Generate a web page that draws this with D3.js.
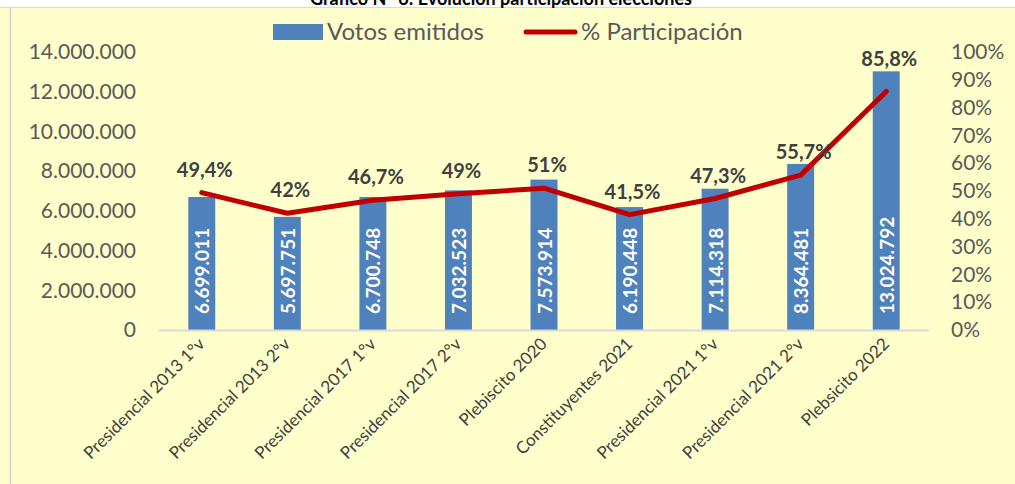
<!DOCTYPE html>
<html><head><meta charset="utf-8">
<script src="https://cdn.jsdelivr.net/npm/d3@7"></script>
<style>
html,body{margin:0;padding:0;background:#fff;}
svg{display:block;font-family:Lato, "Open Sans", sans-serif;}
</style></head>
<body><svg id="c" width="1015" height="484"></svg>
<script>
const title = "Gráfico N° 6: Evolución participación elecciones";
const categories = ["Presidencial 2013 1°v","Presidencial 2013 2°v","Presidencial 2017 1°v","Presidencial 2017 2°v","Plebiscito 2020","Constituyentes 2021","Presidencial 2021 1°v","Presidencial 2021 2°v","Plebsicito 2022"];
const votos = [6699011,5697751,6700748,7032523,7573914,6190448,7114318,8364481,13024792];
const participacion = [49.4,42,46.7,49,51,41.5,47.3,55.7,85.8];
const leftTicks = [0,2000000,4000000,6000000,8000000,10000000,12000000,14000000];
const rightTicks = [0,10,20,30,40,50,60,70,80,90,100];
const seriesNames = ["Votos emitidos","% Participación"];

const svg = d3.select("#c");
const W = 1015, H = 484;
const loc = d3.formatLocale({decimal:",", thousands:".", grouping:[3], currency:["$",""]});
const fmtInt = loc.format(",d");
const fmtPct = v => (Math.round(v*10)/10).toString().replace(".", ",") + "%";

// background
svg.append("rect").attr("x",0).attr("y",0).attr("width",W).attr("height",H).attr("fill","#ffffff");
svg.append("rect").attr("x",0).attr("y",8).attr("width",W).attr("height",H-8).attr("fill","#FFFFCC");
svg.append("line").attr("x1",0).attr("x2",W).attr("y1",7.5).attr("y2",7.5).attr("stroke","#d9d9d9").attr("stroke-width",1);
svg.append("line").attr("x1",10.5).attr("x2",10.5).attr("y1",8).attr("y2",H).attr("stroke","#d0d0d0").attr("stroke-width",1.5);
svg.append("text").attr("x",501).attr("y",5).attr("text-anchor","middle")
  .attr("font-weight","bold").attr("font-size",18).attr("fill","#000").text(title);

const x = d3.scaleBand().domain(categories).range([159,929]).paddingInner(0.685).paddingOuter(0.3425);
const yL = d3.scaleLinear().domain([0,14000000]).range([330,52]);
const yR = d3.scaleLinear().domain([0,100]).range([330,52]);

// axes
const axL = svg.append("g").attr("transform","translate(142,0)")
  .call(d3.axisLeft(yL).tickValues(leftTicks).tickSize(0).tickPadding(6).tickFormat(d=>fmtInt(d)));
const axR = svg.append("g").attr("transform","translate(945,0)")
  .call(d3.axisRight(yR).tickValues(rightTicks).tickSize(0).tickPadding(6).tickFormat(d=>d+"%"));
[axL,axR].forEach(a=>{
  a.select(".domain").remove();
  a.selectAll("text").attr("font-size",21).attr("fill","#595959").attr("font-family","Lato, sans-serif");
});

// bars
svg.append("g").selectAll("rect").data(categories).join("rect")
  .attr("x",d=>x(d)).attr("width",x.bandwidth())
  .attr("y",(d,i)=>yL(votos[i])).attr("height",(d,i)=>yL(0)-yL(votos[i]))
  .attr("fill","#4F81BD");

// baseline
svg.append("line").attr("x1",159).attr("x2",929).attr("y1",yL(0)+0.5).attr("y2",yL(0)+0.5)
  .attr("stroke","#d9d9d9").attr("stroke-width",2);

// bar labels
svg.append("g").selectAll("text").data(categories).join("text")
  .attr("transform",d=>`translate(${x(d)+x.bandwidth()/2},314) rotate(-90)`)
  .attr("text-anchor","start").attr("dominant-baseline","central")
  .attr("font-weight","bold").attr("font-size",19).attr("fill","#ffffff")
  .text((d,i)=>fmtInt(votos[i]));

// line
const cx = d => x(d)+x.bandwidth()/2;
const line = d3.line().x((d,i)=>cx(categories[i])).y(d=>yR(d));
svg.append("path").datum(participacion).attr("d",line)
  .attr("fill","none").attr("stroke","#C00000").attr("stroke-width",5)
  .attr("stroke-linejoin","round").attr("stroke-linecap","round");

// pct labels
svg.append("g").selectAll("text").data(categories).join("text")
  .attr("x",d=>cx(d)+3)
  .attr("y",(d,i)=>Math.min(yR(participacion[i])-16, yL(votos[i])-5))
  .attr("text-anchor","middle").attr("font-weight","bold").attr("font-size",20).attr("fill","#404040")
  .text((d,i)=>fmtPct(participacion[i]));

// category labels
svg.append("g").selectAll("text").data(categories).join("text")
  .attr("transform",d=>`translate(${cx(d)+4},345) rotate(-45)`)
  .attr("text-anchor","end").attr("font-size",17).attr("fill","#404040")
  .text(d=>d);

// legend
const lg = svg.append("g");
lg.append("rect").attr("x",273).attr("y",24).attr("width",50).attr("height",16).attr("fill","#4F81BD");
lg.append("text").attr("x",327).attr("y",40).attr("font-size",24).attr("fill","#595959").text(seriesNames[0]);
lg.append("line").attr("x1",526).attr("x2",575).attr("y1",32).attr("y2",32)
  .attr("stroke","#C00000").attr("stroke-width",5).attr("stroke-linecap","round");
lg.append("text").attr("x",581).attr("y",40).attr("font-size",24).attr("fill","#595959").text(seriesNames[1]);
</script></body></html>
